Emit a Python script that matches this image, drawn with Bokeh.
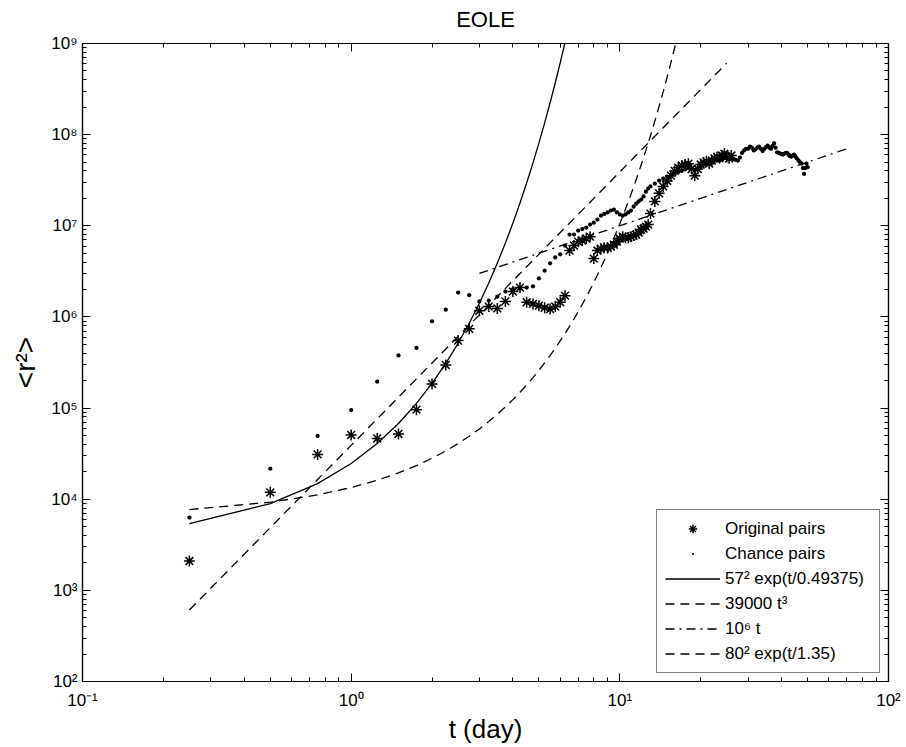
import numpy as np
from bokeh.plotting import figure
from bokeh.models import Range1d, LogAxis, FixedTicker, Legend, LegendItem
from bokeh.embed import file_html
from bokeh.resources import INLINE

# ---------------- data ----------------
title_text = "EOLE"
x_label = "t (day)"
y_label = "<r²>"

x_ticks = [0.1, 1, 10, 100]
x_tick_labels = ["10⁻¹", "10⁰", "10¹", "10²"]
y_ticks = [1e2, 1e3, 1e4, 1e5, 1e6, 1e7, 1e8, 1e9]
y_tick_labels = ["10²", "10³", "10⁴", "10⁵", "10⁶", "10⁷", "10⁸", "10⁹"]

# Original pairs (stars); sampled every 0.25 day up to 13 d, then every 0.5 day
orig_t = list(np.arange(0.25, 13.01, 0.25)) + list(np.arange(13.5, 26.01, 0.5))
orig_v = [2.1e3, 1.19e4, 3.1e4, 5.07e4, 4.64e4, 5.2e4, 9.6e4, 1.84e5, 2.97e5, 5.5e5,
          7.4e5, 1.17e6, 1.30e6, 1.24e6, 1.48e6, 1.90e6, 2.10e6, 1.45e6, 1.39e6, 1.33e6,
          1.26e6, 1.22e6, 1.30e6, 1.45e6, 1.71e6, 5.35e6, 6.07e6, 6.7e6, 6.9e6, 7.25e6,
          7.6e6, 4.37e6, 5.35e6, 5.6e6, 5.75e6, 5.75e6, 5.9e6, 6.2e6, 6.7e6, 7.25e6,
          7.6e6, 7.4e6, 7.4e6, 7.6e6, 7.8e6, 8.0e6, 8.4e6, 9.1e6, 9.3e6, 9.8e6,
          1.03e7, 1.36e7,
          1.85e7, 2.27e7, 2.7e7, 3.1e7, 3.55e7, 4.0e7, 4.35e7, 4.6e7, 4.7e7, 4.8e7,
          4.2e7, 3.55e7, 4.2e7, 4.7e7, 4.95e7, 5.1e7, 4.8e7, 5.2e7, 5.5e7, 5.7e7,
          5.5e7, 5.9e7, 6.2e7, 5.7e7, 5.5e7, 5.9e7]

# Chance pairs (dots)
chance_t = list(np.arange(0.25, 13.01, 0.25)) + list(np.arange(13.5, 50.01, 0.5))
chance_v = [6.3e3, 2.16e4, 4.94e4, 9.5e4, 1.95e5, 3.78e5, 4.57e5, 8.95e5, 1.2e6, 1.85e6,
            1.73e6, 1.48e6, 1.51e6, 1.67e6, 1.9e6, 2.0e6, 2.05e6, 2.1e6, 2.17e6, 2.65e6,
            3.22e6, 3.87e6, 4.5e6, 4.86e6, 6.07e6, 8.0e6, 8.0e6, 8.85e6, 9.2e6, 9.55e6,
            1.03e7, 1.08e7, 1.17e7, 1.29e7, 1.35e7, 1.4e7, 1.47e7, 1.5e7, 1.4e7, 1.33e7,
            1.29e7, 1.33e7, 1.4e7, 1.47e7, 1.62e7, 1.75e7, 1.85e7, 1.94e7, 2.1e7, 2.37e7,
            2.56e7, 2.7e7,
            2.9e7, 3.13e7, 3.3e7, 3.47e7, 3.6e7, 3.75e7, 3.9e7, 4.0e7, 4.15e7, 4.3e7,
            4.2e7, 4.1e7, 4.3e7, 4.5e7, 4.7e7, 4.9e7, 4.8e7, 5.0e7, 5.2e7, 5.3e7,
            5.2e7, 5.4e7, 5.6e7, 5.5e7, 5.4e7, 5.6e7, 5.4e7, 5.3e7, 5.2e7, 5.6e7,
            6.3e7, 6.7e7, 7.0e7,
            7.0e7, 7.4e7, 7.2e7, 6.7e7, 6.9e7, 7.2e7, 7.4e7, 7.0e7, 6.6e7, 7.0e7,
            7.3e7, 7.6e7, 7.2e7, 7.0e7, 7.5e7, 8.0e7, 7.2e7, 6.4e7, 6.3e7, 6.2e7,
            6.1e7, 6.05e7, 6.2e7, 6.3e7, 6.25e7, 6.0e7, 5.8e7, 5.75e7, 5.9e7, 6.05e7,
            5.8e7, 5.5e7, 5.3e7, 5.1e7, 4.9e7, 4.8e7, 4.3e7, 3.7e7, 4.3e7, 4.8e7,
            4.4e7]

assert len(orig_t) == len(orig_v)
assert len(chance_t) == len(chance_v)

# Fit curves (parameters from the legend)
fit_exp1_a, fit_exp1_tau = 57.0, 0.49375
fit_pow_c = 39000.0
fit_lin_c = 1e6
fit_exp2_a, fit_exp2_tau = 80.0, 1.35

t_exp1 = np.arange(0.25, 6.26, 0.25)
v_exp1 = fit_exp1_a ** 2 * np.exp(t_exp1 / fit_exp1_tau)
t_pow = np.arange(0.25, 25.01, 0.25)
v_pow = fit_pow_c * t_pow ** 3
t_lin = np.array([3.0, 70.0])
v_lin = fit_lin_c * t_lin
t_exp2 = np.arange(0.25, 16.26, 0.25)
v_exp2 = fit_exp2_a ** 2 * np.exp(t_exp2 / fit_exp2_tau)

legend_labels = ["Original pairs", "Chance pairs", "57² exp(t/0.49375)",
                 "39000 t³", "10⁶ t", "80² exp(t/1.35)"]

# ---------------- figure ----------------
FONT = "Liberation Sans"

p = figure(width=906, height=747, x_axis_type="log", y_axis_type="log",
           x_range=Range1d(0.1, 100), y_range=Range1d(1e2, 1e9),
           output_backend="svg", toolbar_location=None,
           min_border_left=82, min_border_right=18, min_border_top=43, min_border_bottom=66)
p.background_fill_color = "white"
p.border_fill_color = "white"
p.outline_line_color = "black"
p.outline_line_width = 1.2
p.grid.visible = False

x_minor = [m * 10.0 ** k for k in (-1, 0, 1) for m in range(2, 10)]
y_minor = [m * 10.0 ** k for k in range(2, 9) for m in range(2, 10)]


def style_axis(ax, labels=True):
    ax.axis_line_color = "black"
    ax.axis_line_width = 1.2
    ax.major_tick_line_color = "black"
    ax.minor_tick_line_color = "black"
    ax.major_tick_line_width = 1
    ax.minor_tick_line_width = 1
    ax.major_tick_in = 8
    ax.major_tick_out = 0
    ax.minor_tick_in = 4
    ax.minor_tick_out = 0
    ax.major_label_text_font = FONT
    ax.major_label_text_color = "black"
    ax.axis_label_text_font = FONT
    ax.axis_label_text_font_style = "normal"
    ax.axis_label_text_color = "black"
    if not labels:
        ax.major_label_text_font_size = "1px"
        ax.major_label_text_alpha = 0
        ax.major_label_standoff = 0


xb = p.xaxis[0]
xb.ticker = FixedTicker(ticks=x_ticks, minor_ticks=x_minor)
xb.major_label_overrides = {t: l for t, l in zip(x_ticks, x_tick_labels)}
style_axis(xb)
xb.major_label_text_font_size = "17px"
xb.major_label_standoff = 9
xb.axis_label = x_label
xb.axis_label_text_font_size = "26px"
xb.axis_label_standoff = 1

yl = p.yaxis[0]
yl.ticker = FixedTicker(ticks=y_ticks, minor_ticks=y_minor)
yl.major_label_overrides = {t: l for t, l in zip(y_ticks, y_tick_labels)}
style_axis(yl)
yl.major_label_text_font_size = "17px"
yl.major_label_standoff = 5
yl.axis_label = y_label
yl.axis_label_text_font_size = "28px"
yl.axis_label_standoff = 7

# top axis: ticks only, its axis label carries the plot title
xt = LogAxis(ticker=FixedTicker(ticks=x_ticks, minor_ticks=x_minor))
style_axis(xt, labels=False)
xt.axis_label = title_text
xt.axis_label_text_font_size = "22px"
xt.axis_label_standoff = 12
p.add_layout(xt, "above")

yr = LogAxis(ticker=FixedTicker(ticks=y_ticks, minor_ticks=y_minor))
style_axis(yr, labels=False)
p.add_layout(yr, "right")

# ---------------- glyphs ----------------
r_orig = p.scatter(orig_t, orig_v, marker="asterisk", size=11,
                   line_color="black", line_width=1.5)
r_chance = p.scatter(chance_t, chance_v, marker="dot", size=17,
                     fill_color="black", line_color="black", line_width=1.5)
r_exp1 = p.line(t_exp1, v_exp1, line_color="black", line_width=1.3)
r_pow = p.line(t_pow, v_pow, line_color="black", line_width=1.3, line_dash="9 6")
r_lin = p.line(t_lin, v_lin, line_color="black", line_width=1.3, line_dash="9 5 2 5")
r_exp2 = p.line(t_exp2, v_exp2, line_color="black", line_width=1.3, line_dash="9 6")

renderers = [r_orig, r_chance, r_exp1, r_pow, r_lin, r_exp2]
legend = Legend(items=[LegendItem(label=l, renderers=[r]) for l, r in zip(legend_labels, renderers)],
                location="bottom_right", margin=8, padding=8, spacing=4,
                glyph_width=55, glyph_height=21, label_height=21, label_standoff=5,
                label_width=146,
                border_line_color="black", border_line_width=1.2,
                background_fill_color="white", background_fill_alpha=1.0,
                label_text_font=FONT, label_text_font_size="17px", label_text_color="black")
p.add_layout(legend)

open("out.html", "w").write(file_html(p, INLINE))
